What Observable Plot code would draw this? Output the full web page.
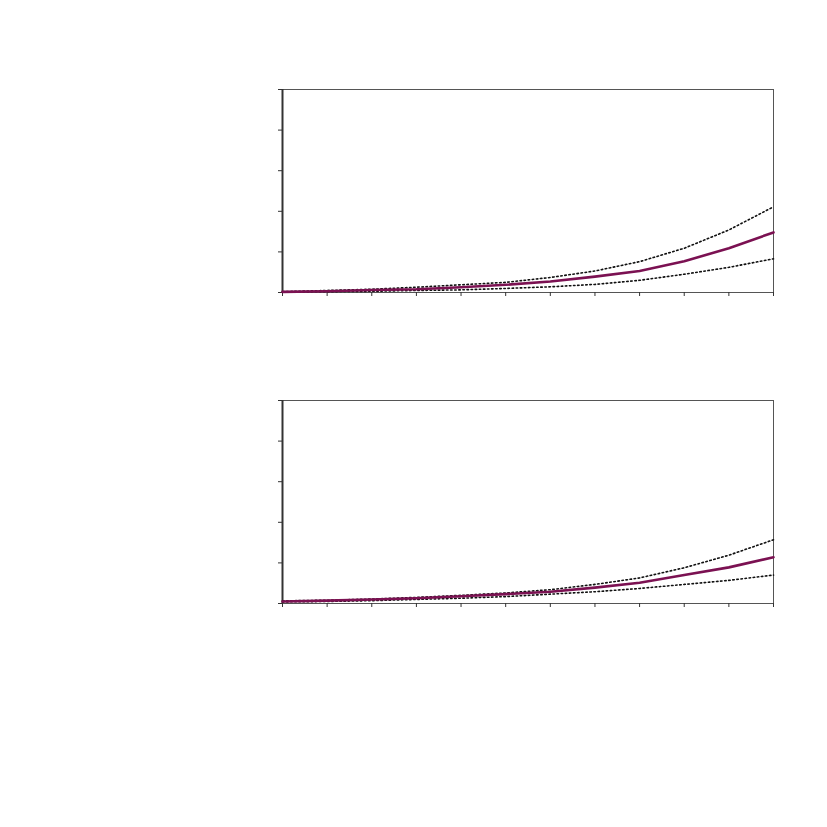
<!DOCTYPE html>
<html>
<head>
<meta charset="utf-8">
<script src="https://cdn.jsdelivr.net/npm/d3@7"></script>
<script src="https://cdn.jsdelivr.net/npm/@observablehq/plot@0.6"></script>
<style>
html,body{margin:0;padding:0;background:#fff;}
#wrap{position:relative;width:827px;height:827px;}
#p1,#p2{position:absolute;left:0;}
#p1{top:0;}
#p2{top:311px;}
</style>
</head>
<body>
<div id="wrap"><div id="p1"></div><div id="p2"></div></div>
<script>
const xs = [0,1,2,3,4,5,6,7,8,9,10,11];
const xTicks = [0,1,2,3,4,5,6,7,8,9,10,11];
const yTicks = [0,1,2,3,4,5];

const mid1 = [0.015,0.03,0.06,0.08,0.13,0.19,0.27,0.39,0.53,0.77,1.09,1.48];
const hi1  = [0.02,0.05,0.08,0.13,0.19,0.25,0.37,0.53,0.76,1.09,1.54,2.11];
const lo1  = [0.01,0.02,0.03,0.05,0.065,0.10,0.14,0.20,0.30,0.45,0.62,0.83];

const mid2 = [0.05,0.07,0.10,0.13,0.18,0.23,0.29,0.39,0.51,0.70,0.89,1.14];
const hi2  = [0.065,0.08,0.11,0.15,0.20,0.26,0.34,0.47,0.63,0.88,1.19,1.57];
const lo2  = [0.04,0.05,0.07,0.10,0.13,0.17,0.23,0.29,0.37,0.47,0.57,0.70];

const lineColor = "#7b1152";

function panel(mid, hi, lo, opts) {
  const rows = (arr) => xs.map((x, i) => ({x, y: arr[i]}));
  return Plot.plot({
    width: 827,
    height: opts.height,
    marginTop: opts.marginTop,
    marginBottom: opts.marginBottom,
    marginLeft: 282,
    marginRight: 54,
    x: {domain: [0, 11]},
    y: {domain: [0, 5]},
    style: {background: "white"},
    marks: [
      Plot.frame({stroke: "#555", strokeWidth: 1}),
      Plot.axisX({ticks: xTicks, tickSize: 4, tickFormat: () => "", label: null, stroke: "#333"}),
      Plot.axisY({ticks: yTicks, tickSize: 4, tickFormat: () => "", label: null, stroke: "#333"}),
      Plot.ruleX([0], {stroke: "#333", strokeWidth: 2}),
      Plot.line(rows(hi), {x: "x", y: "y", stroke: "#111", strokeWidth: 1.6, strokeDasharray: "1.5 2.6"}),
      Plot.line(rows(lo), {x: "x", y: "y", stroke: "#111", strokeWidth: 1.6, strokeDasharray: "1.5 2.6"}),
      Plot.line(rows(mid), {x: "x", y: "y", stroke: lineColor, strokeWidth: 2.6})
    ]
  });
}

document.getElementById("p1").appendChild(panel(mid1, hi1, lo1, {height: 311, marginTop: 89, marginBottom: 19}));
document.getElementById("p2").appendChild(panel(mid2, hi2, lo2, {height: 516, marginTop: 89, marginBottom: 224}));
</script>
</body>
</html>
